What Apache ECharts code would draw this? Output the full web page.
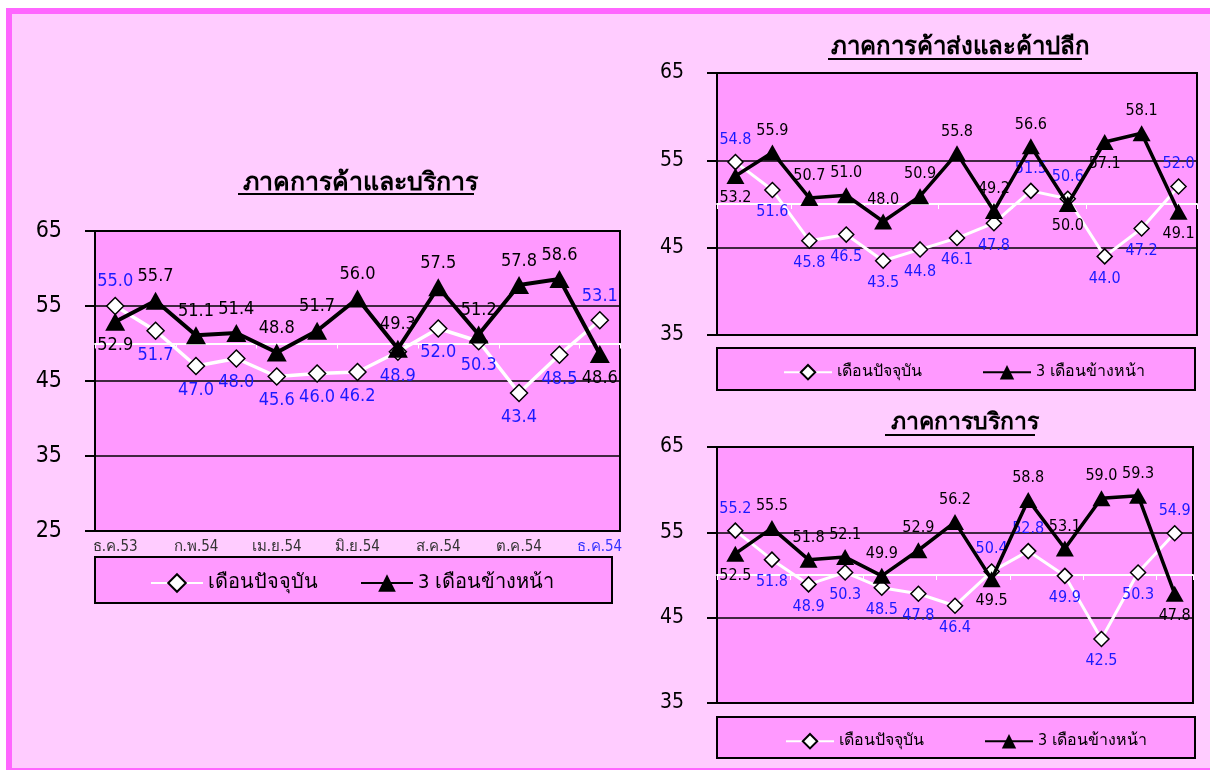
<!DOCTYPE html>
<html>
<head>
<meta charset="utf-8">
<script src="https://cdn.jsdelivr.net/npm/echarts@6/dist/echarts.min.js"></script>
<style>
html,body{margin:0;padding:0;background:#fff;}
#c{width:1210px;height:770px;}
</style>
</head>
<body>
<div id="c"></div>
<script>
// ---------- DATA ----------
const categories = ['ธ.ค.53','ม.ค.54','ก.พ.54','มี.ค.54','เม.ย.54','พ.ค.54','มิ.ย.54','ก.ค.54','ส.ค.54','ก.ย.54','ต.ค.54','พ.ย.54','ธ.ค.54'];
const seriesNames = ['เดือนปัจจุบัน', '3 เดือนข้างหน้า'];
const chartTitles = ['ภาคการค้าและบริการ', 'ภาคการค้าส่งและค้าปลีก', 'ภาคการบริการ'];

// ภาคการค้าและบริการ
const allCurrent = [55.0, 51.7, 47.0, 48.0, 45.6, 46.0, 46.2, 48.9, 52.0, 50.3, 43.4, 48.5, 53.1];
const allForward = [52.9, 55.7, 51.1, 51.4, 48.8, 51.7, 56.0, 49.3, 57.5, 51.2, 57.8, 58.6, 48.6];
// ภาคการค้าส่งและค้าปลีก
const tradeCurrent = [54.8, 51.6, 45.8, 46.5, 43.5, 44.8, 46.1, 47.8, 51.5, 50.6, 44.0, 47.2, 52.0];
const tradeForward = [53.2, 55.9, 50.7, 51.0, 48.0, 50.9, 55.8, 49.2, 56.6, 50.0, 57.1, 58.1, 49.1];
// ภาคการบริการ
const servCurrent = [55.2, 51.8, 48.9, 50.3, 48.5, 47.8, 46.4, 50.4, 52.8, 49.9, 42.5, 50.3, 54.9];
const servForward = [52.5, 55.5, 51.8, 52.1, 49.9, 52.9, 56.2, 49.5, 58.8, 53.1, 59.0, 59.3, 47.8];

const yTicksLeft = [25, 65];
const yTicksRight = [35, 65];

// ---------- LABEL PLACEMENT (style) ----------
const T='top', B='bottom';
const allCurPos  = [T,B,B,B,B,B,B,B,B,B,B,B,T];
const allFwdPos  = [B,T,T,T,T,T,T,T,T,T,T,T,B];
const trCurPos   = [T,B,B,B,B,B,B,B,T,T,B,B,T];
const trFwdPos   = [B,T,T,T,T,T,T,T,T,B,B,T,B];
const svCurPos   = [T,B,B,B,B,B,B,T,T,B,B,B,T];
const svFwdPos   = [B,T,T,T,T,T,T,B,T,T,T,T,B];

const FONT = '"DejaVu Sans Condensed", "Liberation Sans", sans-serif';
const BLUE = '#1a1aff';
const PLOT = '#ff99ff';

const grids = [
  {left: 95,  top: 231, width: 525, height: 300},
  {left: 717, top: 73,  width: 480, height: 262},
  {left: 717, top: 447, width: 476, height: 256}
];
const yRanges = [yTicksLeft, yTicksRight, yTicksRight];

function mkData(vals, pos){ return vals.map((v,i)=>({value:v, label:{position:pos[i]}})); }

const option = {
  backgroundColor: '#ffffff',
  animation: false,
  textStyle: {fontFamily: FONT},
  graphic: [
    {type:'rect', shape:{x:6,y:8,width:1210,height:762}, style:{fill:'#ff66ff'}, z:-10, silent:true},
    {type:'rect', shape:{x:12,y:14,width:1200,height:754}, style:{fill:'#ffccff'}, z:-9, silent:true},
    // legend boxes
    {type:'rect', shape:{x:95,y:557,width:517,height:46}, style:{fill:PLOT, stroke:'#000', lineWidth:2}, z:-5},
    {type:'rect', shape:{x:717,y:348,width:478,height:42}, style:{fill:PLOT, stroke:'#000', lineWidth:2}, z:-5},
    {type:'rect', shape:{x:717,y:717,width:478,height:41}, style:{fill:PLOT, stroke:'#000', lineWidth:2}, z:-5},
    // title underlines
    {type:'line', shape:{x1:238,y1:194,x2:474,y2:194}, style:{stroke:'#000', lineWidth:2}},
    {type:'line', shape:{x1:828,y1:59,x2:1082,y2:59}, style:{stroke:'#000', lineWidth:2}},
    {type:'line', shape:{x1:885,y1:435,x2:1035,y2:435}, style:{stroke:'#000', lineWidth:2}}
  ],
  title: [
    {text: chartTitles[0], left: 355, top: 166, textAlign:'center', textStyle:{fontSize:25, fontWeight:'bold', color:'#000'}},
    {text: chartTitles[1], left: 955, top: 31, textAlign:'center', textStyle:{fontSize:24, fontWeight:'bold', color:'#000'}},
    {text: chartTitles[2], left: 960, top: 407, textAlign:'center', textStyle:{fontSize:23, fontWeight:'bold', color:'#000'}}
  ],
  legend: [
    {data: seriesNames, left: 145, top: 568, itemWidth: 52, itemHeight: 22, itemGap: 42,
     textStyle:{fontSize:20, color:'#000'}},
    {data: seriesNames, left: 778, top: 359, itemWidth: 48, itemHeight: 18, itemGap: 60,
     textStyle:{fontSize:16, color:'#000'}},
    {data: seriesNames, left: 780, top: 728, itemWidth: 48, itemHeight: 18, itemGap: 60,
     textStyle:{fontSize:16, color:'#000'}}
  ],
  grid: grids.map(g => Object.assign({show:true, backgroundColor:PLOT, borderColor:'#000', borderWidth:2}, g)),
  xAxis: [],
  yAxis: [],
  series: []
};

grids.forEach((g, gi) => {
  const [ymin, ymax] = yRanges[gi];
  const off = g.height * (50 - ymin) / (ymax - ymin);
  option.xAxis.push({
    type:'category', gridIndex: gi, data: categories.map((c,i)=> i===categories.length-1 ? {value:c, textStyle:{color:'#3333ff'}} : c),
    boundaryGap: true, position:'bottom',
    axisLine:{show:false}, axisTick:{show:false},
    axisLabel:{show: gi===0, interval:1, color:'#333', fontSize:15, margin:9}
  });
  option.xAxis.push({
    type:'category', gridIndex: gi, data: categories, boundaryGap: true, position:'bottom', offset: -off,
    axisLine:{show:true, onZero:false, lineStyle:{color:'#fff', width:2}},
    axisTick:{show:true, length:5, lineStyle:{color:'#fff', width:1}},
    axisLabel:{show:false}
  });
  option.yAxis.push({
    type:'value', gridIndex: gi, min: ymin, max: ymax, interval: 10,
    axisLine:{show:true, lineStyle:{color:'#000', width:2}},
    axisTick:{show:true, length:10, lineStyle:{color:'#000', width:2}},
    axisLabel:{color:'#000', fontSize: gi===0 ? 23 : 21, margin: 33},
    splitLine:{show:true, lineStyle:{color:'#000', width:1.5}}
  });
});

const sets = [
  [allCurrent, allForward, allCurPos, allFwdPos],
  [tradeCurrent, tradeForward, trCurPos, trFwdPos],
  [servCurrent, servForward, svCurPos, svFwdPos]
];
sets.forEach((s, gi) => {
  const big = gi===0;
  option.series.push({
    name: seriesNames[0], type:'line', xAxisIndex: gi*2, yAxisIndex: gi,
    data: mkData(s[0], s[2]),
    symbol:'diamond', symbolSize: big ? 17 : 15,
    lineStyle:{color:'#fff', width: big ? 3.5 : 3},
    itemStyle:{color:'#fff', borderColor:'#000', borderWidth:1.5},
    label:{show:true, color:BLUE, fontSize: big ? 18 : 16, distance: 6, formatter: p => p.value.toFixed(1)},
    z: 3
  });
  option.series.push({
    name: seriesNames[1], type:'line', xAxisIndex: gi*2, yAxisIndex: gi,
    data: mkData(s[1], s[3]),
    symbol:'triangle', symbolSize: big ? [20,18] : [18,16],
    lineStyle:{color:'#000', width: big ? 4 : 3.5},
    itemStyle:{color:'#000'},
    label:{show:true, color:'#000', fontSize: big ? 18 : 16, distance: 6, formatter: p => p.value.toFixed(1)},
    z: 4
  });
});

const chart = echarts.init(document.getElementById('c'));
chart.setOption(option);
</script>
</body>
</html>
